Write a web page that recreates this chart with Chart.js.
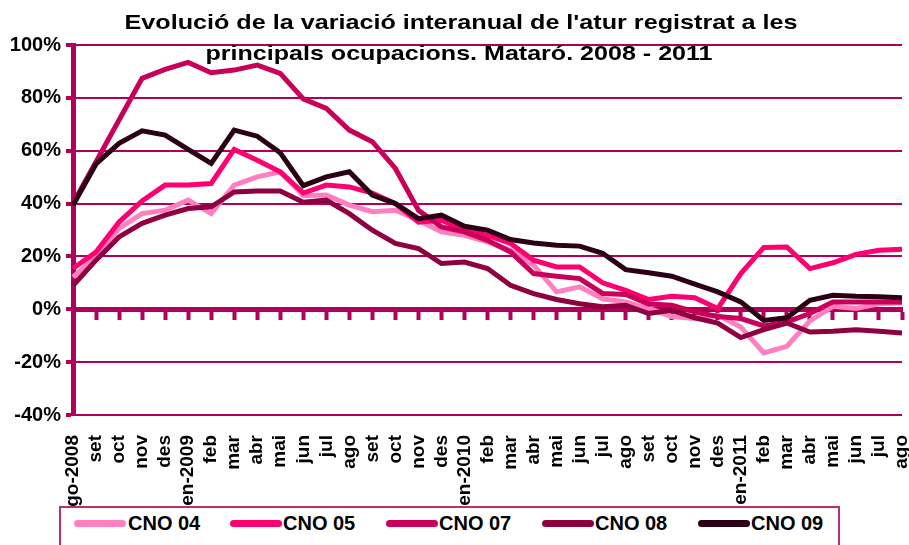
<!DOCTYPE html>
<html>
<head>
<meta charset="utf-8">
<script src="https://cdn.jsdelivr.net/npm/chart.js@4"></script>
<style>
  html, body { margin: 0; padding: 0; background: #fff; }
  #wrap { position: relative; width: 909px; height: 545px; overflow: hidden; background: #fff; }
  #c { position: absolute; left: 0; top: 0; }
  #legend { position: absolute; left: 59px; top: 506px; width: 781px; height: 42px; box-sizing: border-box;
            border: 2px solid #b8306e; background: #fff; }
  .sw { position: absolute; top: 12px; width: 52px; height: 7px; border-radius: 4px; }
  .tx { position: absolute; top: 1px; font: bold 20px "Liberation Sans", Arial, sans-serif; color: #000; white-space: nowrap; line-height: 28px; }
</style>
</head>
<body>
<div id="wrap">
  <canvas id="c" width="909" height="506"></canvas>
  <div id="legend"></div>
</div>
<script>
const categories = ["ago-2008","set","oct","nov","des","gen-2009","feb","mar","abr","mai","jun","jul",
  "ago","set","oct","nov","des","gen-2010","feb","mar","abr","mai","jun","jul",
  "ago","set","oct","nov","des","gen-2011","feb","mar","abr","mai","jun","jul","ago"];

const cno04 = [12.2, 19.8, 30.6, 36.2, 37.5, 41.3, 36.2, 47, 50.1, 52, 43, 43.2, 39.4, 36.9, 37.5, 33.7, 29.3, 28, 25.5, 22.3, 16.7, 6.6, 8.5, 4, 2.8, 0.3, -2.7, -3.5, -2.3, -6.7, -16.5, -14, -4.4, 1.1, 0.3, 2.1, 2.4];
const cno05 = [15.4, 21.7, 33, 41, 47, 47, 47.6, 60.5, 56.4, 52, 44, 47, 46.3, 44, 40, 33, 33.7, 29.9, 28, 24.9, 18.6, 16, 16, 10, 7.2, 3.7, 4.9, 4.4, 0.3, 13.5, 23.4, 23.6, 15.4, 17.6, 20.8, 22.3, 22.7];
const cno07 = [40, 55.8, 71.6, 87.4, 90.8, 93.4, 89.5, 90.5, 92.4, 89.3, 79.6, 76, 67.8, 63.4, 53.3, 37.5, 31.2, 29.3, 26.1, 21.7, 13.5, 12.5, 11.6, 6, 5.6, 2, 1.5, -1, -2.7, -3.5, -6.3, -4.8, -1.6, 2.8, 2.8, 2.8, 2.8];
const cno08 = [9, 18.6, 27.4, 32.5, 35.6, 38.1, 38.8, 44.4, 44.8, 44.8, 40.5, 41.3, 36.2, 29.9, 24.9, 23, 17.3, 17.9, 15.4, 9.1, 5.9, 3.7, 2.1, 1, 1.5, -1.6, -0.4, -3.2, -5.2, -10.7, -7.7, -5.2, -8.6, -8.3, -7.7, -8.3, -9];
const cno09 = [39.4, 55, 62.8, 67.5, 65.9, 60.5, 55.2, 67.8, 65.5, 59.2, 46.8, 50.1, 52, 43.2, 40, 34.3, 35.6, 31.4, 29.9, 26.4, 25.1, 24.2, 23.9, 21.2, 15, 13.8, 12.5, 9.5, 6.6, 2.8, -4.2, -3.2, 3.4, 5.3, 4.9, 4.7, 4.4];

const seriesNames = ["CNO 04","CNO 05","CNO 07","CNO 08","CNO 09"];
const seriesColors = ["#ff80c0","#ff0070","#c8005a","#8f0040","#2b0014"];
const titleLines = ["Evolució de la variació interanual de l'atur registrat a les",
                    "principals ocupacions. Mataró. 2008 - 2011"];
const yTickMin = -40, yTickMax = 100, yTickStep = 20;

const gridColor = "#b0005a";
const FONT = '"Liberation Sans", Arial, sans-serif';
const seriesData = [cno04, cno05, cno07, cno08, cno09];

const titlePlugin = {
  id: 'customTitle',
  afterDraw(chart) {
    const ctx = chart.ctx;
    const specs = [
      {text: titleLines[0], cx: 461, y: 29, w: 673},
      {text: titleLines[1], cx: 459, y: 60, w: 507}
    ];
    ctx.save();
    ctx.fillStyle = '#000';
    ctx.font = 'bold 21px ' + FONT;
    ctx.textAlign = 'center';
    ctx.textBaseline = 'alphabetic';
    for (const s of specs) {
      const m = ctx.measureText(s.text).width;
      const sx = s.w / m;
      ctx.save();
      ctx.translate(s.cx, s.y);
      ctx.scale(sx, 1);
      ctx.fillText(s.text, 0, 0);
      ctx.restore();
    }
    ctx.restore();
  }
};

const datasets = seriesNames.map((name, i) => ({
  label: name,
  data: seriesData[i],
  borderColor: seriesColors[i],
  backgroundColor: seriesColors[i],
  borderWidth: 5,
  pointRadius: 0,
  pointHoverRadius: 0,
  tension: 0,
  fill: false,
  order: 5 - i
}));

new Chart(document.getElementById('c'), {
  type: 'line',
  data: { labels: categories, datasets },
  options: {
    responsive: false,
    devicePixelRatio: 1,
    animation: false,
    events: [],
    layout: { padding: { top: 45, left: 0, right: 7, bottom: 0 } },
    plugins: { legend: { display: false }, title: { display: false }, tooltip: { enabled: false } },
    scales: {
      x: {
        type: 'category',
        position: 'bottom',
        offset: false,
        grid: { display: false },
        border: { display: false },
        ticks: {
          autoSkip: false, minRotation: 90, maxRotation: 90, padding: 12,
          color: '#000', font: { family: FONT, size: 19, weight: 'bold' }
        },
        afterFit(scale) { scale.height = 91; scale.paddingLeft = 0; scale.paddingRight = 0; }
      },
      x2: {
        type: 'category',
        axis: 'x',
        position: { y: 0 },
        offset: false,
        grid: { display: true, drawOnChartArea: false, drawTicks: true, tickLength: 8, tickWidth: 4, tickColor: gridColor, color: gridColor },
        border: { display: true, width: 5, color: gridColor },
        ticks: { display: false, autoSkip: false },
        afterFit(scale) { scale.paddingLeft = 0; scale.paddingRight = 0; }
      },
      y: {
        min: yTickMin, max: yTickMax,
        position: 'left',
        ticks: {
          stepSize: yTickStep, padding: 5, color: '#000',
          font: { family: FONT, size: 20, weight: 'bold' },
          callback: v => v + '%'
        },
        grid: { color: gridColor, lineWidth: 2, drawTicks: true, tickLength: 7, tickWidth: 4, tickColor: gridColor },
        border: { display: true, width: 5, color: gridColor },
        afterFit(scale) { scale.width = 73; }
      }
    }
  },
  plugins: [titlePlugin]
});

// HTML legend
const legendEl = document.getElementById('legend');
const legendLeft = 59;
const swatchX = [74, 230, 386, 542, 698];
const textX = [128, 283, 439, 595, 751];
seriesNames.forEach((name, i) => {
  const sw = document.createElement('div');
  sw.className = 'sw';
  sw.style.left = (swatchX[i] - legendLeft - 2) + 'px';
  sw.style.background = seriesColors[i];
  legendEl.appendChild(sw);
  const tx = document.createElement('div');
  tx.className = 'tx';
  tx.style.left = (textX[i] - legendLeft - 2) + 'px';
  tx.textContent = name;
  legendEl.appendChild(tx);
});
</script>
</body>
</html>
